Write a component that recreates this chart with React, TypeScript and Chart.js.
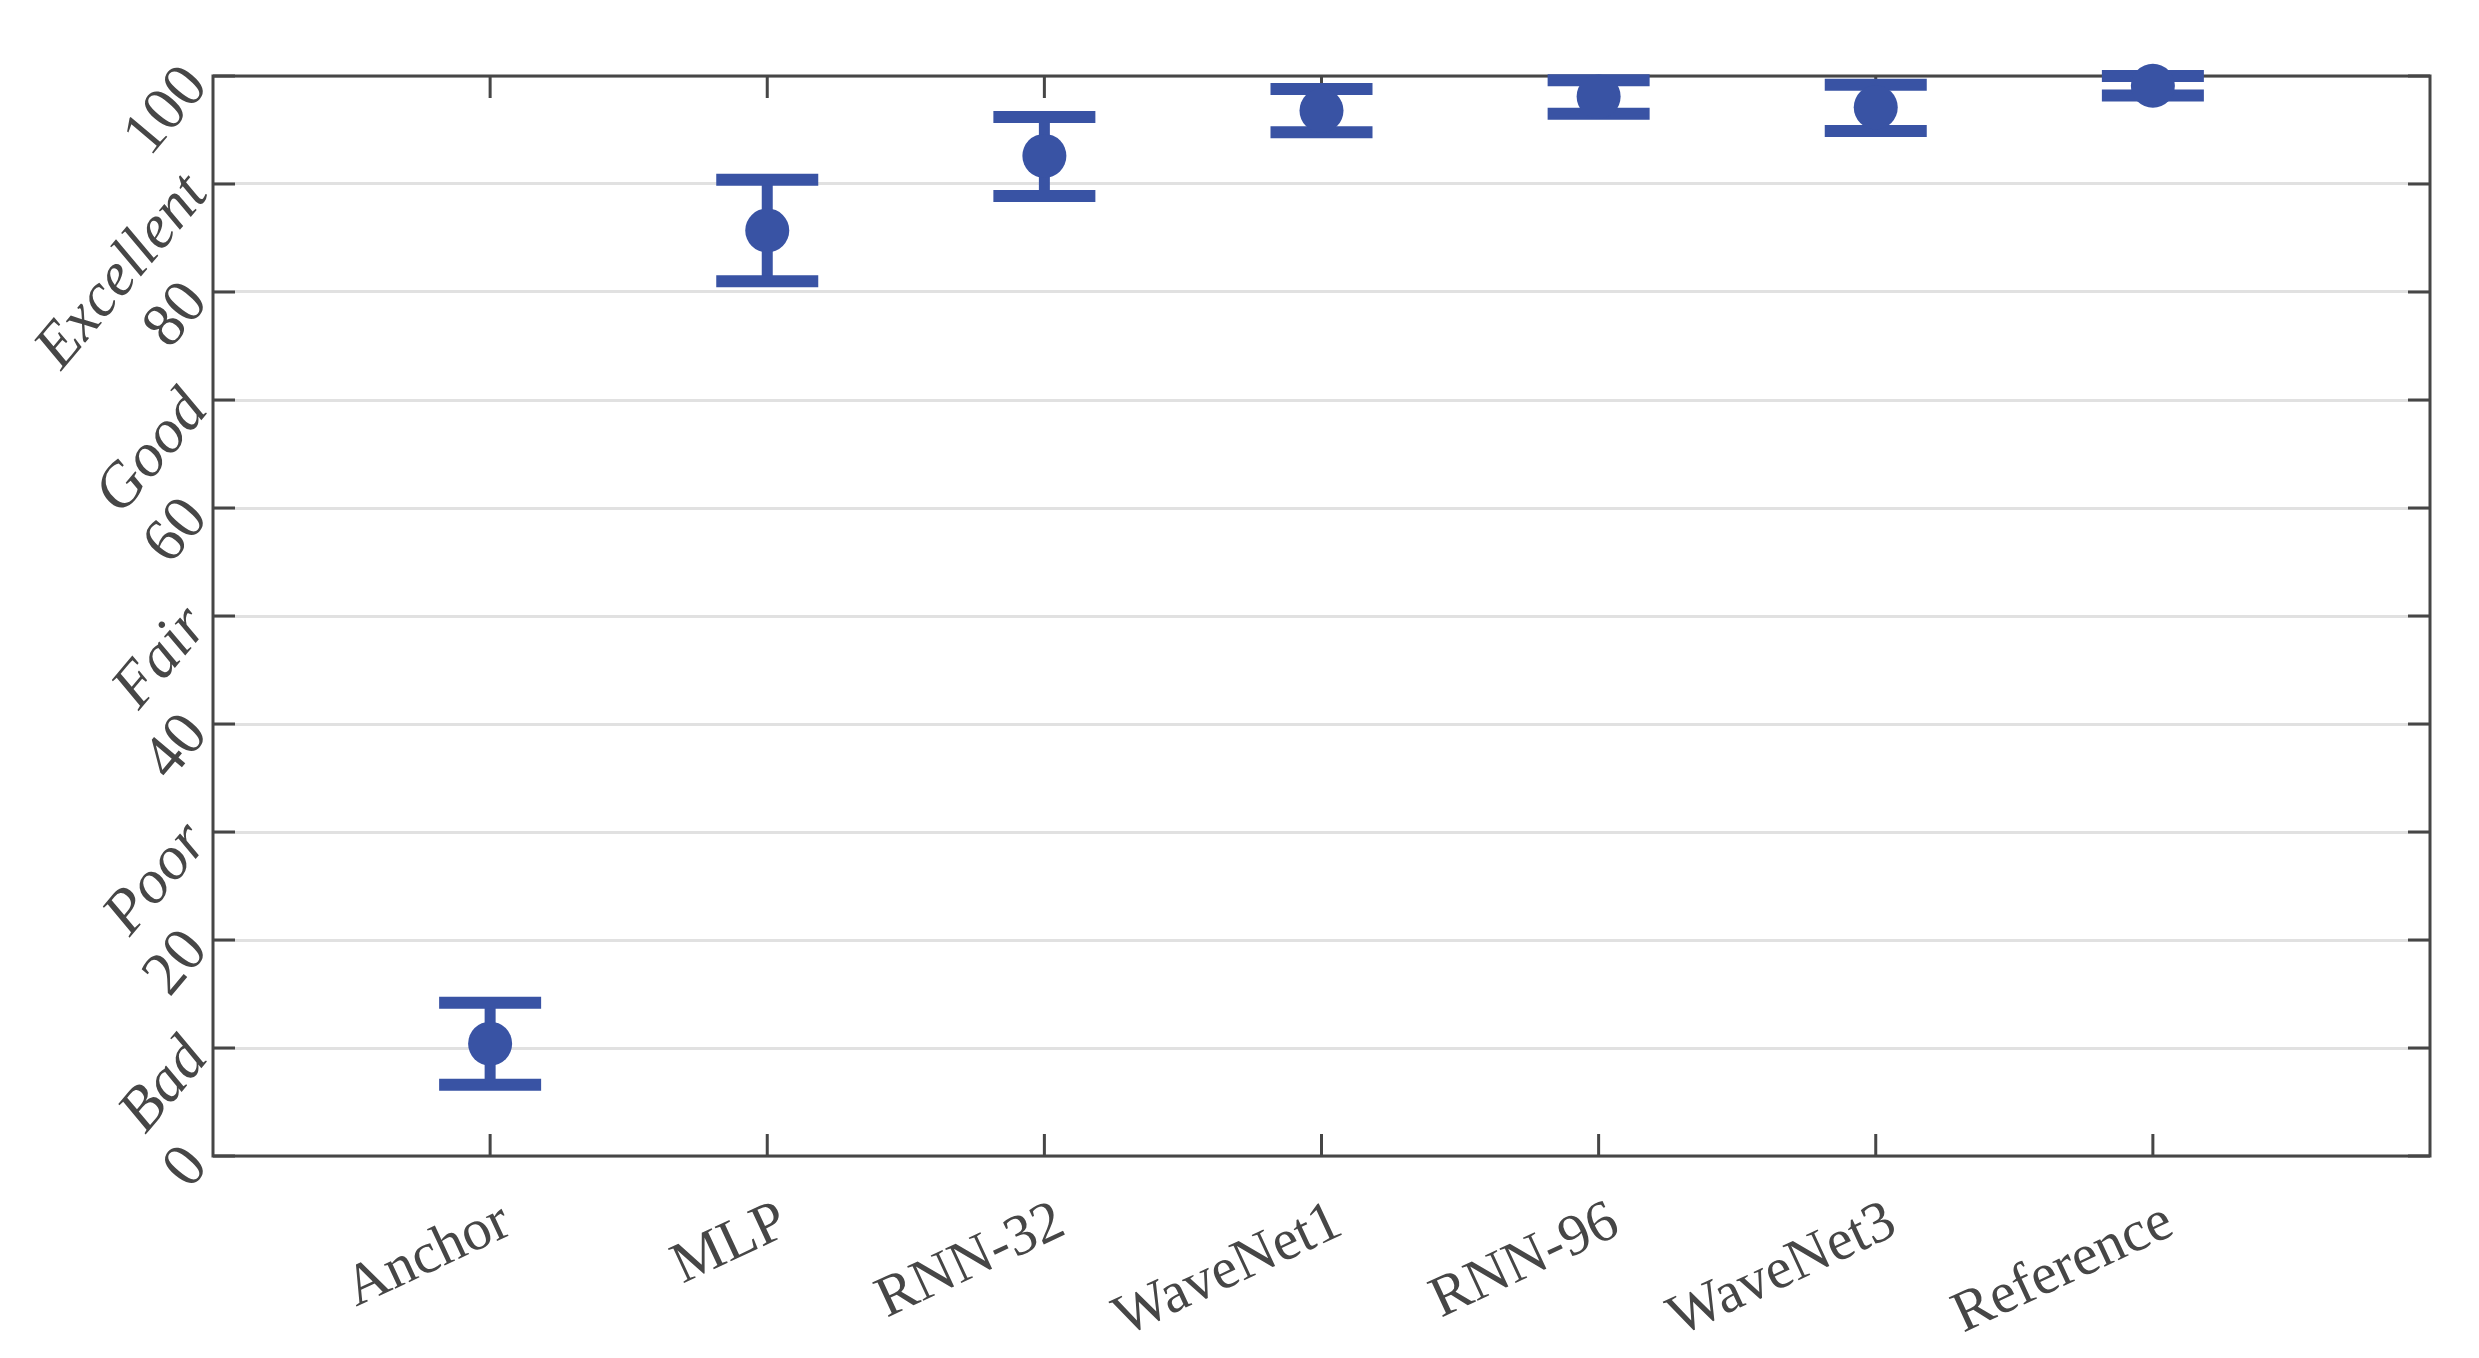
import React, { useEffect, useRef } from 'react';
import { Chart, registerables } from 'chart.js';

Chart.register(...registerables);

// ---- data ----
const categories = ['Anchor', 'MLP', 'RNN-32', 'WaveNet1', 'RNN-96', 'WaveNet3', 'Reference'];
const means = [10.4, 85.7, 92.6, 96.8, 98.1, 97.1, 99.1];
const lowerCI = [6.6, 81.0, 88.9, 94.8, 96.5, 94.9, 98.2];
const upperCI = [14.2, 90.4, 96.2, 98.8, 99.6, 99.2, 100.0];
const yTickValues = [0, 10, 20, 30, 40, 50, 60, 70, 80, 90, 100];
const qualityLabels = ['Bad', 'Poor', 'Fair', 'Good', 'Excellent'];

// ---- style ----
const BLUE = '#3953a4';
const AXIS = '#464646';
const GRID = '#e1e1e1';
const FONT = "'Liberation Serif', 'DejaVu Serif', serif";
const TICK_LEN = 22;
const CAP_HALF = 51;
const CAP_W = 12;
const STEM_W = 11;

const frameAndErrorPlugin = {
  id: 'frameAndErrors',
  beforeDatasetsDraw(chart: any) {
    const { ctx, chartArea: a, scales } = chart;
    const x = scales.x;
    const y = scales.y;
    ctx.save();
    ctx.strokeStyle = AXIS;
    ctx.lineWidth = 3;
    ctx.strokeRect(a.left, a.top, a.right - a.left, a.bottom - a.top);
    ctx.beginPath();
    for (const t of y.ticks) {
      const py = y.getPixelForValue(t.value);
      ctx.moveTo(a.left, py);
      ctx.lineTo(a.left + TICK_LEN, py);
      ctx.moveTo(a.right, py);
      ctx.lineTo(a.right - TICK_LEN, py);
    }
    for (const t of x.ticks) {
      const px = x.getPixelForValue(t.value);
      ctx.moveTo(px, a.top);
      ctx.lineTo(px, a.top + TICK_LEN);
      ctx.moveTo(px, a.bottom);
      ctx.lineTo(px, a.bottom - TICK_LEN);
    }
    ctx.stroke();

    ctx.strokeStyle = BLUE;
    ctx.lineCap = 'butt';
    categories.forEach((_, i) => {
      const px = x.getPixelForValue(i + 1);
      const pl = y.getPixelForValue(lowerCI[i]);
      const pu = y.getPixelForValue(upperCI[i]);
      ctx.lineWidth = STEM_W;
      ctx.beginPath();
      ctx.moveTo(px, pl);
      ctx.lineTo(px, pu);
      ctx.stroke();
      ctx.lineWidth = CAP_W;
      ctx.beginPath();
      ctx.moveTo(px - CAP_HALF, pl);
      ctx.lineTo(px + CAP_HALF, pl);
      ctx.moveTo(px - CAP_HALF, pu);
      ctx.lineTo(px + CAP_HALF, pu);
      ctx.stroke();
    });
    ctx.restore();
  },
};

export default function App() {
  const ref = useRef<HTMLCanvasElement>(null);

  useEffect(() => {
    document.body.style.margin = '0';
    const chart = new Chart(ref.current as HTMLCanvasElement, {
      type: 'scatter',
      data: {
        datasets: [
          {
            data: means.map((m, i) => ({ x: i + 1, y: m })),
            backgroundColor: BLUE,
            borderColor: BLUE,
            borderWidth: 0,
            pointRadius: 22,
            pointHoverRadius: 22,
            clip: false as any,
          },
        ],
      },
      options: {
        animation: false,
        responsive: true,
        maintainAspectRatio: false,
        devicePixelRatio: 1,
        layout: { padding: { top: 76, right: 49, left: 0, bottom: 0 } },
        plugins: { legend: { display: false }, tooltip: { enabled: false } },
        scales: {
          x: {
            type: 'linear',
            min: 0,
            max: 8,
            afterBuildTicks: (s: any) => {
              s.ticks = categories.map((_, i) => ({ value: i + 1 }));
            },
            afterFit: (s: any) => {
              s.height = 202;
            },
            grid: { display: false },
            border: { display: false },
            ticks: {
              autoSkip: false,
              minRotation: 25,
              maxRotation: 25,
              padding: 24,
              labelOffset: 17,
              color: AXIS,
              font: { family: FONT, size: 58 },
              callback: (v: any) => categories[Number(v) - 1] ?? '',
            },
          },
          y: {
            type: 'linear',
            min: 0,
            max: 100,
            afterBuildTicks: (s: any) => {
              s.ticks = yTickValues.map((v) => ({ value: v }));
            },
            afterFit: (s: any) => {
              s.width = 213;
            },
            grid: { color: GRID, lineWidth: 3, drawTicks: false },
            border: { display: false },
            ticks: {
              autoSkip: false,
              minRotation: 50,
              maxRotation: 50,
              padding: 16,
              color: AXIS,
              font: (c: any) => ({
                family: FONT,
                size: 62,
                style: c.tick && c.tick.value % 20 === 10 ? 'italic' : 'normal',
              }),
              callback: (v: any) => {
                const n = Number(v);
                return n % 20 === 0 ? String(n) : qualityLabels[(n - 10) / 20];
              },
            },
          },
        },
      },
      plugins: [frameAndErrorPlugin],
    });
    return () => chart.destroy();
  }, []);

  return (
    <div style={{ width: 2479, height: 1358, position: 'relative', background: '#fff' }}>
      <canvas ref={ref} />
    </div>
  );
}
